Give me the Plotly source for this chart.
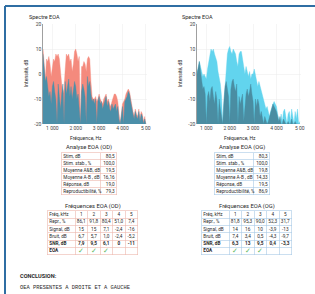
import plotly.graph_objects as go

W, H = 315, 294
FONT = "Roboto"

# ---------------- data ----------------
freq_hz = [600, 650, 700, 750, 800, 850, 900, 950, 1000, 1050,
           1100, 1150, 1200, 1250, 1300, 1350, 1400, 1450, 1500, 1550,
           1600, 1650, 1700, 1750, 1800, 1850, 1900, 1950, 2000, 2050,
           2100, 2150, 2200, 2250, 2300, 2350, 2400, 2450, 2500, 2550,
           2600, 2650, 2700, 2750, 2800, 2850, 2900, 2950, 3000, 3050,
           3100, 3150, 3200, 3250, 3300, 3350, 3400, 3450, 3500, 3550,
           3600, 3650, 3700, 3750, 3800, 3850, 3900, 3950, 4000, 4050,
           4100, 4150, 4200, 4250, 4300, 4350, 4400, 4450, 4500, 4550,
           4600, 4650, 4700, 4750, 4800, 4850, 4900, 4950, 5000]

od_signal_db = [10, 3, -2, 6, 5, 7, 4, -1, 3, 6,
                5, 8, 7, 8, 6, 0, -4, -8, -6, 2,
                8, 7, 8, 5, 6, 1, 4, 9, 10, 8,
                5, 7, -20, 3, 3, 5, 4, 1, 6, 7,
                6, -3, -9, -10, -10, -9, -11, -10, -8, -10,
                -11, -12, -10, -9, -8, -11, -10, -12, -13, -11,
                -9, -8, -8, -9, -11, -17, -20, -16, -12, -11,
                -10, -8, -7, -6, -7, -10, -13, -15, -17, -14,
                -16, -17, -14, -18, -15, -16, -19, -17, -20]

od_noise_db = [8, 0, -3, -1, -6, -9, -7, -12, -5, -3,
               -7, -10, -20, -4, -9, -14, -8, -4, -20, -3,
               -8, -5, -2, -9, -5, -10, -7, -3, -5, -10,
               -8, -13, -20, -7, -4, -6, -9, -20, -1, -5,
               -3, -8, -11, -10, -12, -10, -20, -11, -9, -12,
               -11, -14, -12, -10, -9, -13, -11, -14, -15, -12,
               -14, -13, -12, -15, -13, -18, -20, -17, -13, -20,
               -11, -10, -9, -7, -8, -11, -14, -16, -18, -15,
               -17, -18, -15, -19, -16, -17, -20, -18, -20]

og_signal_db = [1, 2, 5, 3, 1, -1, 0, -1, -2, 2,
                5, 7, 10, 9, 10, 8, 6, 5, 1, -1,
                -4, -9, -20, -12, -5, 5, 8, 10, 11, 9,
                8, 10, 9, 8, 5, 3, 8, 9, 9, 5,
                3, 0, 3, 1, -1, 1, -2, 0, 0, 2,
                0, -2, -5, -3, -5, -7, -9, -11, -12, -14,
                -13, -15, -17, -15, -13, -12, -11, -12, -13, -16,
                -18, -20, -16, -19, -15, -14, -17, -20, -16, -15,
                -19, -14, -17, -20, -15, -18, -14, -20, -19]

og_noise_db = [0, 3, 5, 1, -3, -6, -5, -8, -20, -9,
               -7, -11, -6, -5, -9, -12, -7, -10, -20, -10,
               -14, -18, -20, -11, -5, -3, -6, -9, -20, -6,
               -3, -2, -5, -7, -4, -20, -9, -12, -10, -8,
               -19, -13, -8, -6, -9, -7, -4, -8, -11, -20,
               -10, -13, -10, -12, -17, -15, -18, -20, -17, -19,
               -20, -19, -17, -15, -13, -12, -13, -14, -15, -17,
               -19, -17, -20, -20, -18, -19, -20, -20, -19, -20,
               -20, -18, -20, -20, -19, -20, -20, -20, -20]

for s in (od_signal_db, od_noise_db, og_signal_db, og_noise_db):
    assert len(s) == len(freq_hz)

x_tick_vals = [1000, 2000, 3000, 4000, 5000]
x_tick_text = ["1 000", "2 000", "3 000", "4 000", "5 00"]
y_tick_vals = [-20, -10, 0, 10, 20]
y_tick_text = ["-20", "-10", "0", "10", "20"]

analyse_labels = ["Stim, dB", "Stim. stab., %", "Moyenne A&B, dB",
                  "Moyenne A-B , dB", "Réponse, dB", "Reproductibilité, %"]
analyse_od = ["80,5", "100,0", "19,5", "16,16", "19,0", "79,3"]
analyse_og = ["80,3", "100,0", "19,8", "14,33", "19,5", "86,9"]

freq_khz = ["1", "2", "3", "4", "5"]
freq_row_labels = ["Fréq, kHz", "Repr., %", "Signal, dB", "Bruit, dB", "SNR, dB", "EOA"]
od_repr = ["86,1", "91,8", "80,4", "51,0", "7,4"]
od_sig = ["15", "15", "7,1", "-2,4", "-16"]
od_bruit = ["6,7", "5,7", "1,0", "-2,4", "-5,2"]
od_snr = ["7,9", "9,5", "6,1", "0", "-11"]
od_eoa = [True, True, True, False, False]
og_repr = ["81,8", "95,3", "90,0", "52,3", "31,7"]
og_sig = ["14", "16", "10", "-3,9", "-13"]
og_bruit = ["7,4", "3,4", "0,5", "-4,3", "-9,7"]
og_snr = ["6,3", "13", "9,5", "0,4", "-3,3"]
og_eoa = [True, True, True, False, False]

conclusion_title = "CONCLUSION:"
conclusion_text = "OEA PRESENTES A DROITE ET A GAUCHE"

# ---------------- styles ----------------
OD_SIG_C = "#F48A7D"
OD_NOI_C = "#4B8FA9"
OG_SIG_C = "#62D4EE"
OG_NOI_C = "#4A8DA2"
OD_BORDER = "#EDB7AE"
OG_BORDER = "#A9C9E6"
CHECK_C = "#5DB85C"
TEXT_C = "#2a2a2a"
TBL_FS = 4.7

traces = []
layout = dict(width=W, height=H, margin=dict(l=0, r=0, t=0, b=0),
              paper_bgcolor="white", plot_bgcolor="rgba(0,0,0,0)",
              showlegend=False, hovermode=False,
              font=dict(family=FONT, size=5, color=TEXT_C),
              annotations=[], shapes=[])


def px(xp, yp):
    return xp / W, 1 - yp / H


def ann(text, xp, yp, size=5, xanchor="center", angle=0, family=FONT, color=TEXT_C):
    x, y = px(xp, yp)
    layout["annotations"].append(dict(
        text=text, x=x, y=y, xref="paper", yref="paper", showarrow=False,
        xanchor=xanchor, yanchor="middle", textangle=angle,
        font=dict(size=size, family=family, color=color)))


# ---------------- spectra ----------------
PLOT_TOP, PLOT_BOT = 24, 124
charts = [
    ("", 43, 147, od_signal_db, od_noise_db, OD_SIG_C, OD_NOI_C, 27, 26, 86),
    ("2", 197, 301, og_signal_db, og_noise_db, OG_SIG_C, OG_NOI_C, 180, 180, 240),
]
for ax, x0, x1, sig, noi, sc, nc, tx, ylx, xlx in charts:
    xa, ya = "x" + ax, "y" + ax
    base = [y_tick_vals[0]] * len(freq_hz)
    for vals, col in ((sig, sc), (noi, nc)):
        traces.append(go.Scatter(x=freq_hz, y=base, mode="lines", line=dict(width=0),
                                 xaxis=xa, yaxis=ya, hoverinfo="skip"))
        traces.append(go.Scatter(x=freq_hz, y=vals, mode="lines", fill="tonexty",
                                 fillcolor=col, line=dict(width=0.4, color=col),
                                 xaxis=xa, yaxis=ya, hoverinfo="skip"))
    layout["xaxis" + ax] = dict(
        domain=[x0 / W, x1 / W], anchor=ya, range=[600, 5050],
        tickmode="array", tickvals=x_tick_vals, ticktext=x_tick_text,
        showgrid=True, gridcolor="#ececec", gridwidth=0.5, zeroline=False,
        showline=False, ticks="", tickfont=dict(size=5, color="#444"),
        automargin=False, fixedrange=True)
    layout["yaxis" + ax] = dict(
        domain=[1 - PLOT_BOT / H, 1 - PLOT_TOP / H], anchor=xa, range=[-20, 20],
        tickmode="array", tickvals=y_tick_vals, ticktext=y_tick_text,
        showgrid=True, gridcolor="#ececec", gridwidth=0.5, zeroline=False,
        showline=True, linecolor="#777", linewidth=0.7, ticks="",
        tickfont=dict(size=5, color="#444"), automargin=False, fixedrange=True)
    ann("Spectre EOA", tx, 17, size=5.5, xanchor="left")
    ann("Intensité, dB", ylx, 74, size=5, angle=-90)
    ann("Fréquence, Hz", xlx, 138, size=5)


# ---------------- tables ----------------
def add_table(n, x_left, col_edges, y_top, row_h, rows, colors, sizes, border, aligns):
    nrows = len(rows)
    width = col_edges[-1]
    xa, ya = "x%d" % n, "y%d" % n
    common = dict(showgrid=True, gridcolor=border, gridwidth=0.6, showticklabels=False,
                  zeroline=False, showline=True, mirror=True, linecolor=border,
                  linewidth=0.6, ticks="", fixedrange=True, automargin=False)
    layout["xaxis%d" % n] = dict(domain=[x_left / W, (x_left + width) / W], anchor=ya,
                                 range=[0, width], tickmode="array", tickvals=col_edges, **common)
    layout["yaxis%d" % n] = dict(domain=[1 - (y_top + row_h * nrows) / H, 1 - y_top / H],
                                 anchor=xa, range=[nrows, 0], tickmode="array",
                                 tickvals=list(range(nrows + 1)), **common)
    for c in range(len(col_edges) - 1):
        al = aligns[c]
        if al == "left":
            xv, pos = col_edges[c] + 1.3, "middle right"
        elif al == "right":
            xv, pos = col_edges[c + 1] - 1.3, "middle left"
        else:
            xv, pos = (col_edges[c] + col_edges[c + 1]) / 2, "middle center"
        traces.append(go.Scatter(
            x=[xv] * nrows, y=[r + 0.55 for r in range(nrows)], mode="text",
            text=[rows[r][c] for r in range(nrows)], textposition=pos,
            textfont=dict(size=[sizes[r][c] for r in range(nrows)], family=FONT,
                          color=[colors[r][c] for r in range(nrows)]),
            xaxis=xa, yaxis=ya, cliponaxis=False, hoverinfo="skip"))


def analyse_rows(values):
    rows = [[analyse_labels[i], values[i]] for i in range(len(values))]
    return rows, [[TEXT_C] * 2 for _ in rows], [[TBL_FS] * 2 for _ in rows]


def freq_rows(repr_, sig, bruit, snr, eoa):
    rows = [[freq_row_labels[0]] + freq_khz,
            [freq_row_labels[1]] + repr_,
            [freq_row_labels[2]] + sig,
            [freq_row_labels[3]] + bruit,
            ["<b>%s</b>" % freq_row_labels[4]] + ["<b>%s</b>" % v for v in snr],
            ["<b>%s</b>" % freq_row_labels[5]] + ["✓" if e else "" for e in eoa]]
    cols = [[TEXT_C] * 6 for _ in range(5)] + [[TEXT_C] + [CHECK_C] * 5]
    sizes = [[TBL_FS] * 6 for _ in range(5)] + [[TBL_FS] + [7] * 5]
    return rows, cols, sizes


an_edges = [0, 38, 54]
fq_edges = [0, 27, 39.5, 52, 64.5, 77, 89.5]

r, c, s = analyse_rows(analyse_od)
add_table(3, 62, an_edges, 152.5, 7, r, c, s, OD_BORDER, ["left", "right"])
r, c, s = analyse_rows(analyse_og)
add_table(4, 215, an_edges, 152.5, 7, r, c, s, OG_BORDER, ["left", "right"])
r, c, s = freq_rows(od_repr, od_sig, od_bruit, od_snr, od_eoa)
add_table(5, 48, fq_edges, 210.8, 7.3, r, c, s, OD_BORDER, ["left"] + ["center"] * 5)
r, c, s = freq_rows(og_repr, og_sig, og_bruit, og_snr, og_eoa)
add_table(6, 202, fq_edges, 210.8, 7.3, r, c, s, OG_BORDER, ["left"] + ["center"] * 5)

ann("Analyse EOA (OD)", 89, 147.5, size=5.8)
ann("Analyse EOA (OG)", 242, 147.5, size=5.8)
ann("Fréquences EOA (OD)", 93, 206.5, size=5.8)
ann("Fréquences EOA (OG)", 247, 206.5, size=5.8)

ann("<b>%s</b>" % conclusion_title, 18, 276, size=5.6, xanchor="left")
ann(conclusion_text, 18, 288, size=5.4, xanchor="left", family="Liberation Mono")

# blue frame of the report page
BLUE = "#2F6EA3"
layout["shapes"].append(dict(type="line", xref="paper", yref="paper",
                             x0=px(5, 6)[0], y0=px(5, 6)[1], x1=1, y1=px(5, 6)[1],
                             line=dict(color=BLUE, width=2)))
layout["shapes"].append(dict(type="line", xref="paper", yref="paper",
                             x0=px(5, 6)[0], y0=px(5, 6)[1], x1=px(5, 6)[0], y1=0,
                             line=dict(color=BLUE, width=2)))

fig = go.Figure(data=traces, layout=layout)
fig.write_html("out.html", config={"displayModeBar": False, "staticPlot": True},
               post_script="document.body.style.margin='0px';"
                           "document.body.style.overflow='hidden';")
